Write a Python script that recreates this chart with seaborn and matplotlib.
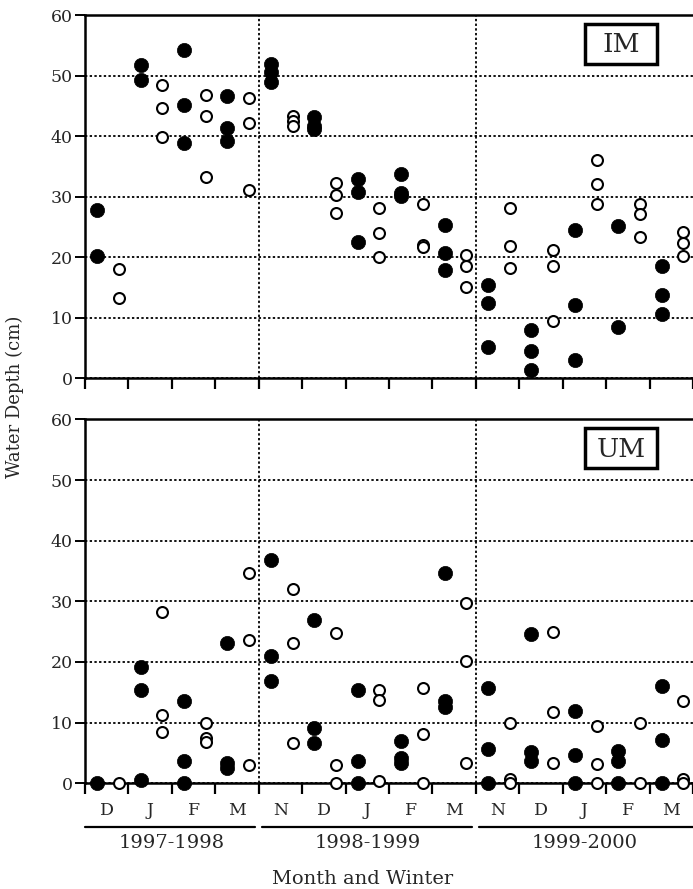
import pandas as pd
import matplotlib.pyplot as plt
import seaborn as sns
from matplotlib.patches import Rectangle

months = ["D", "J", "F", "M", "N", "D", "J", "F", "M", "N", "D", "J", "F", "M"]
winters = ["1997-1998", "1998-1999", "1999-2000"]
winter_spans = [(0, 4), (4, 9), (9, 14)]

# water depth (cm) per month, filled = one site series, open = the other
im_filled = [[27.7, 20.2], [51.7, 49.2], [54.3, 45.2, 38.8], [46.6, 41.3, 39.1],
             [51.9, 50.6, 48.9], [43.2, 41.6, 41.1], [32.9, 30.7, 22.4], [33.7, 30.6, 30.1],
             [25.3, 20.7, 17.9], [15.3, 12.4, 5.2], [7.9, 4.4, 1.4], [24.4, 12.0, 2.9],
             [25.1, 8.5], [18.5, 13.7, 10.5]]
im_open = [[18.0, 13.2], [48.5, 44.6, 39.9], [46.8, 43.3, 33.3], [46.3, 42.1, 31.0],
           [43.3, 42.4, 41.6], [32.2, 30.3, 27.3], [28.1, 24.0, 20.0], [28.8, 22.0, 21.7],
           [20.4, 18.5, 15.0], [28.1, 21.8, 18.2], [21.1, 18.5, 9.4], [36.1, 32.1, 28.8],
           [28.8, 27.1, 23.3], [24.1, 22.3, 20.1]]
um_filled = [[0.0], [19.2, 15.4, 0.5], [13.6, 3.6, 0.0], [23.2, 3.3, 2.5],
             [36.8, 21.0, 16.9], [26.9, 9.1, 6.6], [15.3, 3.6, 0.0], [6.9, 4.1, 3.3],
             [34.6, 13.5, 12.6], [15.7, 5.7, 0.0], [24.6, 5.1, 3.7], [12.0, 4.6, 0.0],
             [5.4, 3.7, 0.0], [16.1, 7.1, 0.0]]
um_open = [[0.0], [28.2, 11.3, 8.5], [10.0, 7.5, 6.8], [34.6, 23.6, 3.0],
           [32.1, 23.1, 6.6], [24.7, 3.0, 0.0], [15.4, 13.8, 0.3], [15.7, 8.1, 0.0],
           [29.8, 20.1, 3.4], [10.0, 0.7, 0.0], [25.0, 11.7, 3.3], [9.5, 3.2, 0.0],
           [9.9, 0.0], [13.5, 0.7, 0.0]]


def to_frame(filled, hollow):
    rows = []
    for i, vals in enumerate(filled):
        for v in vals:
            rows.append({"pos": i + 0.28, "depth": v, "kind": "filled"})
    for i, vals in enumerate(hollow):
        for v in vals:
            rows.append({"pos": i + 0.78, "depth": v, "kind": "open"})
    return pd.DataFrame(rows)


sns.set_theme(style="white")
plt.rcParams['font.family'] = ['DejaVu Serif']

fig = plt.figure(figsize=(6.93, 8.89), dpi=100)
ax_top = fig.add_axes([0.1227, 0.5748, 0.8773, 0.4083])
ax_bot = fig.add_axes([0.1227, 0.1189, 0.8773, 0.4094])

dot = (0, (1.3, 1.3))

for ax, filled, hollow, tag in [(ax_top, im_filled, im_open, "IM"),
                                (ax_bot, um_filled, um_open, "UM")]:
    df = to_frame(filled, hollow)
    sns.scatterplot(data=df[df["kind"] == "filled"], x="pos", y="depth", color="black",
                    edgecolor="black", linewidth=0.5, s=105, ax=ax, clip_on=False, zorder=4)
    sns.scatterplot(data=df[df["kind"] == "open"], x="pos", y="depth", color="white",
                    edgecolor="black", linewidth=1.5, s=62, ax=ax, clip_on=False, zorder=4)

    ax.set_xlim(0, 14)
    ax.set_ylim(0, 60)
    ax.set_yticks(range(0, 61, 10))
    ax.set_xticks(range(0, 15))
    ax.set_xticklabels([])
    ax.grid(axis="y", color="black", linestyle=dot, linewidth=1.3)
    ax.grid(axis="x", visible=False)
    for xv in [4, 9]:
        ax.axvline(xv, color="black", linestyle=dot, linewidth=1.3, zorder=1)
    ax.tick_params(axis="x", direction="out", length=8, width=1.6, color="black", bottom=True)
    ax.tick_params(axis="y", direction="out", length=7, width=1.4, color="black", left=True,
                   labelsize=12.5, pad=2)
    ax.set_xlabel("")
    ax.set_ylabel("")
    for side in ["left", "bottom", "top"]:
        ax.spines[side].set_color("black")
        ax.spines[side].set_linewidth(1.8)
    ax.spines["right"].set_visible(False)
    ax.set_axisbelow(True)

    ax.add_patch(Rectangle((11.51, 51.9), 1.66, 6.6, facecolor="white", edgecolor="black",
                           linewidth=2.5, zorder=5))
    ax.text(12.34, 55.1, tag, ha="center", va="center", fontsize=19, zorder=6)

# month and winter labels under the lower panel
trans = ax_bot.get_xaxis_transform()
for i, m in enumerate(months):
    ax_bot.text(i + 0.5, -0.076, m, transform=trans, ha="center", va="center", fontsize=12.5)
for (a, b), w in zip(winter_spans, winters):
    ax_bot.plot([a if a == 0 else a + 0.08, b - 0.08 if b < 14 else b], [-0.12, -0.12],
                transform=trans, color="black", linewidth=1.6, clip_on=False)
    ax_bot.text((a + b) / 2, -0.164, w, transform=trans, ha="center", va="center", fontsize=14)

fig.text(363 / 693, 1 - 879 / 889, "Month and Winter", ha="center", va="center", fontsize=14)
fig.text(0.022, 1 - 397 / 889, "Water Depth (cm)", rotation=90, ha="center", va="center",
         fontsize=13)

fig.savefig("out.png", dpi=100)
